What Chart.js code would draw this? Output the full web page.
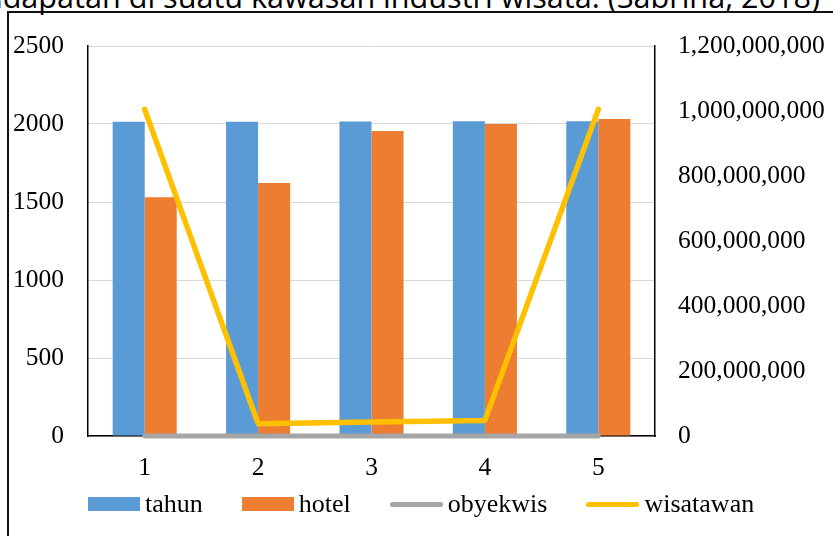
<!DOCTYPE html>
<html>
<head>
<meta charset="utf-8">
<script src="https://cdn.jsdelivr.net/npm/chart.js@4.4.1/dist/chart.umd.min.js"></script>
<style>
  html, body { margin: 0; padding: 0; }
  body { width: 833px; height: 536px; overflow: hidden; position: relative; background: #fff; }
  #title {
    position: absolute; right: 13px; top: -19px; white-space: nowrap;
    font-family: "Open Sans", sans-serif; font-size: 30.6px; line-height: 1; color: #000;
  }
  #frame {
    position: absolute; left: 7px; top: 11px; width: 900px; height: 600px;
    border-left: 2px solid #111; border-top: 2px solid #111;
  }
  #c { position: absolute; left: 0; top: 0; }
  #legend {
    position: absolute; left: 88px; top: 491px; height: 26px;
    display: flex; align-items: center;
    font-family: "Liberation Serif", serif; font-size: 26px; line-height: 1; color: #000;
  }
  .item { display: flex; align-items: center; margin-right: 39px; }
  .sw-bar { width: 52px; height: 14px; margin-right: 5px; }
  .sw-line { width: 53px; height: 5px; border-radius: 3px; margin-right: 5px; }
</style>
</head>
<body>
<div id="title">Pendapatan di suatu kawasan industri wisata. (Sabrina, 2018)</div>
<div id="frame"></div>
<canvas id="c" width="833" height="536"></canvas>
<div id="legend"></div>
<script>
// Category labels along the x axis
const categories = ['1', '2', '3', '4', '5'];

// Series values
const tahun = [2014, 2015, 2016, 2017, 2018];
const hotel = [1530, 1622, 1955, 2000, 2032];
const obyekwis = [20, 22, 24, 26, 28];
const wisatawan = [1005000000, 38000000, 43000000, 48000000, 1005000000];

// Axis ranges
const leftMax = 2500, leftStep = 500;
const rightMax = 1200000000, rightStep = 200000000;

const COLORS = {
  tahun: '#5b9bd5',
  hotel: '#ed7d31',
  obyekwis: '#a5a5a5',
  wisatawan: '#ffc000'
};

Chart.defaults.font.family = '"Liberation Serif", "Times New Roman", serif';
Chart.defaults.font.size = 25.5;
Chart.defaults.color = '#000';

const chart = new Chart(document.getElementById('c'), {
  type: 'bar',
  data: {
    labels: categories,
    datasets: [
      { label: 'tahun', data: tahun, backgroundColor: COLORS.tahun, yAxisID: 'y', order: 2,
        categoryPercentage: 0.565, barPercentage: 1.0 },
      { label: 'hotel', data: hotel, backgroundColor: COLORS.hotel, yAxisID: 'y', order: 2,
        categoryPercentage: 0.565, barPercentage: 1.0 },
      { label: 'obyekwis', type: 'line', data: obyekwis, borderColor: COLORS.obyekwis,
        backgroundColor: COLORS.obyekwis, borderWidth: 5, pointRadius: 0, tension: 0,
        borderCapStyle: 'round', borderJoinStyle: 'round', yAxisID: 'y1', order: 1, clip: false },
      { label: 'wisatawan', type: 'line', data: wisatawan, borderColor: COLORS.wisatawan,
        backgroundColor: COLORS.wisatawan, borderWidth: 5.5, pointRadius: 0, tension: 0,
        borderCapStyle: 'round', borderJoinStyle: 'round', yAxisID: 'y1', order: 0, clip: false }
    ]
  },
  options: {
    responsive: false,
    animation: false,
    devicePixelRatio: 1,
    layout: { padding: { top: 46, left: 0, right: 0, bottom: 0 } },
    plugins: { legend: { display: false }, tooltip: { enabled: false } },
    scales: {
      x: {
        grid: { display: false, drawTicks: false },
        border: { display: true, color: '#000', width: 1.5 },
        ticks: { padding: 17, maxRotation: 0 },
        afterFit: (s) => { s.height = 100; }
      },
      y: {
        position: 'left',
        min: 0, max: leftMax,
        grid: { color: '#d9d9d9', lineWidth: 1, drawTicks: false },
        border: { display: true, color: '#000', width: 1.5 },
        ticks: { stepSize: leftStep, padding: 24, callback: (v) => String(v) },
        afterFit: (s) => { s.width = 88; }
      },
      y1: {
        position: 'right',
        min: 0, max: rightMax,
        grid: { display: false, drawOnChartArea: false, drawTicks: false },
        border: { display: true, color: '#000', width: 1.5 },
        ticks: { stepSize: rightStep, padding: 23,
                 callback: (v) => Number(v).toLocaleString('en-US') },
        afterFit: (s) => { s.width = 178; }
      }
    }
  }
});

// Legend built from the chart's datasets
const legend = document.getElementById('legend');
chart.data.datasets.forEach((ds) => {
  const item = document.createElement('div');
  item.className = 'item';
  const sw = document.createElement('div');
  sw.className = ds.type === 'line' ? 'sw-line' : 'sw-bar';
  sw.style.background = ds.type === 'line' ? ds.borderColor : ds.backgroundColor;
  const txt = document.createElement('span');
  txt.textContent = ds.label;
  item.appendChild(sw);
  item.appendChild(txt);
  legend.appendChild(item);
});
</script>
</body>
</html>
